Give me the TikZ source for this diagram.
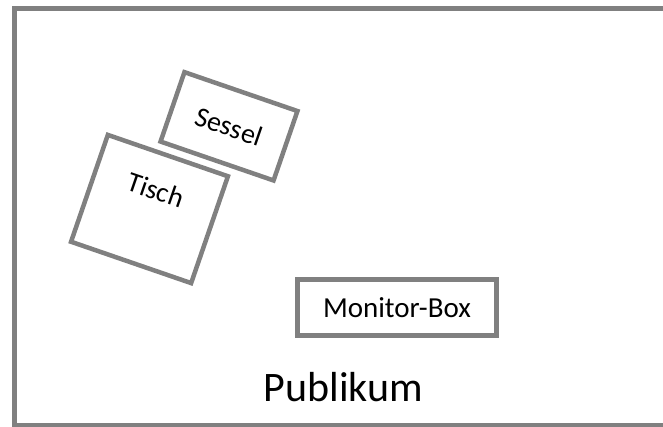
\documentclass[tikz,border=0pt]{standalone}
\usepackage{fontspec}
\setmainfont{Carlito}
\usetikzlibrary{positioning,calc}
\definecolor{framegray}{RGB}{128,128,128}

\begin{document}
\begin{tikzpicture} [
        x=1pt,
        y=-1pt,
        roomframe/.style={
            draw=framegray,
            line width=5pt
        },
        furniture/.style={
            rectangle,
            draw=framegray,
            line width=4.5pt,
            inner sep=0pt,
            font=\fontsize{28}{32}\selectfont
        },
        labeltext/.style={
            inner sep=0pt,
            font=\fontsize{28}{32}\selectfont
        }
    ]

        \path[use as bounding box, clip] (0,0) rectangle (663,426);
        \draw[roomframe] (14,8) rectangle (690,425);

        \node[furniture, minimum width=119.5pt, minimum height=73.4pt, rotate=-19] (sessel)  at (229,126.3)  {Sessel};
        \node[furniture, minimum width=127pt,   minimum height=113pt,  rotate=-19] (tisch)   at (149.5,209)  {};
        \node[labeltext, rotate=-19]                                               (tischlabel) at ($(tisch.center)!20pt!(tisch.north)$) {Tisch};
        \node[furniture, minimum width=199pt,   minimum height=56pt,
              font=\fontsize{29}{33}\selectfont]                                  (monitor) at (397,307.5)  {Monitor-Box};

        \node[inner sep=0pt, anchor=base, font=\fontsize{42}{50}\selectfont] (publikum) at (343.5,401) {Publikum};

    \end{tikzpicture}
\end{document}
